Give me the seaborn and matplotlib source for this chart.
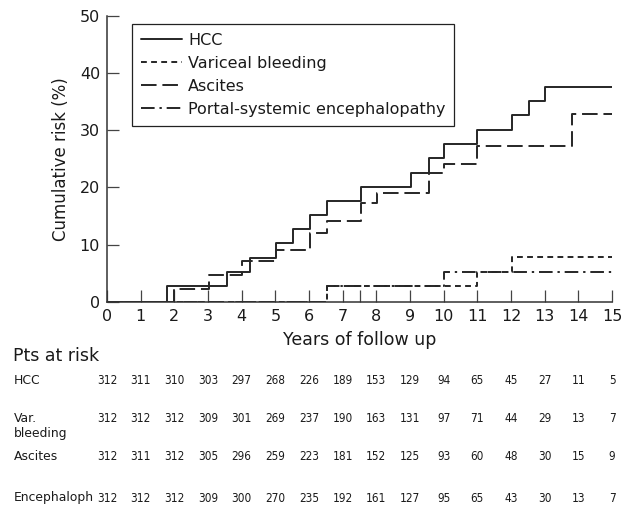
import matplotlib
matplotlib.use("Agg")
import matplotlib.pyplot as plt
import matplotlib.transforms as mtransforms
import seaborn as sns
import pandas as pd

# ---- data ----
hcc_years = [0, 1.77, 3.55, 4.26, 5.02, 5.53, 6.03, 6.52, 7.53, 9.02, 9.55, 10.0, 11.0, 12.02, 12.52, 13.0, 15]
hcc_risk = [0, 2.75, 5.25, 7.7, 10.2, 12.7, 15.2, 17.7, 20.1, 22.6, 25.1, 27.6, 30.1, 32.6, 35.1, 37.6, 37.6]

var_years = [0, 6.52, 11.0, 12.02, 15]
var_risk = [0, 2.8, 5.25, 7.8, 7.8]

asc_years = [0, 2.0, 3.02, 4.02, 5.02, 6.03, 6.52, 7.53, 8.01, 9.55, 10.0, 11.0, 13.81, 15]
asc_risk = [0, 2.2, 4.7, 7.2, 9.05, 12.1, 14.2, 17.2, 19.1, 22.5, 24.1, 27.3, 32.8, 32.8]

enc_years = [0, 6.52, 10.0, 15]
enc_risk = [0, 2.8, 5.25, 5.25]

series_names = ["HCC", "Variceal bleeding", "Ascites", "Portal-systemic encephalopathy"]

risk_years = list(range(0, 16))
risk_labels = ["HCC", "Var.\nbleeding", "Ascites", "Encephaloph"]
risk_hcc = [312, 311, 310, 303, 297, 268, 226, 189, 153, 129, 94, 65, 45, 27, 11, 5]
risk_var = [312, 312, 312, 309, 301, 269, 237, 190, 163, 131, 97, 71, 44, 29, 13, 7]
risk_asc = [312, 311, 312, 305, 296, 259, 223, 181, 152, 125, 93, 60, 48, 30, 15, 9]
risk_enc = [312, 312, 312, 309, 300, 270, 235, 192, 161, 127, 95, 65, 43, 30, 13, 7]

x_ticks = list(range(0, 16))
y_ticks = [0, 10, 20, 30, 40, 50]

# ---- style ----
sns.set_theme(style="ticks")
plt.rcParams["font.family"] = ["DejaVu Sans"]
line_color = "#262626"
text_color = "#1a1a1a"

fig = plt.figure(figsize=(6.23, 5.05), dpi=100)
ax = fig.add_axes([107 / 623, 1 - 301.7 / 505, (612 - 107) / 623, (301.7 - 16) / 505])

styles = [
    (hcc_years, hcc_risk, "-"),
    (var_years, var_risk, (0, (3.0, 2.2))),
    (asc_years, asc_risk, (0, (8.0, 3.0))),
    (enc_years, enc_risk, (0, (7.0, 2.5, 1.2, 2.5))),
]
for (xs, ys, ls), name in zip(styles, series_names):
    df = pd.DataFrame({"year": xs, "risk": ys})
    sns.lineplot(data=df, x="year", y="risk", ax=ax, drawstyle="steps-post",
                 color=line_color, linewidth=1.4, linestyle=ls, label=name,
                 estimator=None, sort=False)

ax.set_xlim(0, 15)
ax.set_ylim(0, 50)
ax.set_xticks(x_ticks)
ax.set_xticks([7.5], minor=True)
ax.set_yticks(y_ticks)
ax.set_xticklabels([str(v) for v in x_ticks])
ax.set_yticklabels([str(v) for v in y_ticks])
sns.despine(ax=ax)
for sp in ["left", "bottom"]:
    ax.spines[sp].set_color("#333333")
    ax.spines[sp].set_linewidth(1.1)
ax.tick_params(axis="both", which="both", direction="in", length=8.5, width=0.9,
               color="#444444", labelsize=11.5, labelcolor=text_color)
ax.tick_params(axis="x", which="both", pad=5)
ax.tick_params(axis="y", pad=5)
ax.set_xlabel("Years of follow up", fontsize=12.5, color=text_color, labelpad=5)
ax.set_ylabel("Cumulative risk (%)", fontsize=12, color=text_color, labelpad=7)

leg = ax.legend(loc="upper left", bbox_to_anchor=(132 / 623, 1 - 24 / 505),
                bbox_transform=fig.transFigure, fontsize=11.5, frameon=True,
                fancybox=False, framealpha=1, borderpad=0.55, labelspacing=0.5,
                handlelength=2.6, handletextpad=0.35, borderaxespad=0)
leg.get_frame().set_edgecolor("#222222")
leg.get_frame().set_linewidth(0.9)
for t in leg.get_texts():
    t.set_color(text_color)

# ---- patients at risk table ----
fig.text(13 / 623, 1 - 356 / 505, "Pts at risk", fontsize=12.5, color=text_color,
         ha="left", va="center")
trans = mtransforms.blended_transform_factory(ax.transData, fig.transFigure)
row_y = [381, 426, 457, 498]
rows = [risk_hcc, risk_var, risk_asc, risk_enc]
for label, vals, ypix in zip(risk_labels, rows, row_y):
    yf = 1 - ypix / 505
    if "\n" in label:
        first, second = label.split("\n")
        fig.text(14 / 623, 1 - (ypix - 8) / 505, first, fontsize=8.9, color=text_color,
                 ha="left", va="center")
        fig.text(14 / 623, 1 - (ypix + 8) / 505, second, fontsize=8.9, color=text_color,
                 ha="left", va="center")
        yf = 1 - (ypix - 8) / 505
    else:
        fig.text(14 / 623, yf, label, fontsize=8.9, color=text_color, ha="left", va="center")
    for xv, n in zip(risk_years, vals):
        ax.text(xv, yf, str(n), transform=trans, fontsize=8.5, color=text_color,
                fontstretch="condensed", ha="center", va="center", clip_on=False)

fig.savefig("out.png", dpi=100)
